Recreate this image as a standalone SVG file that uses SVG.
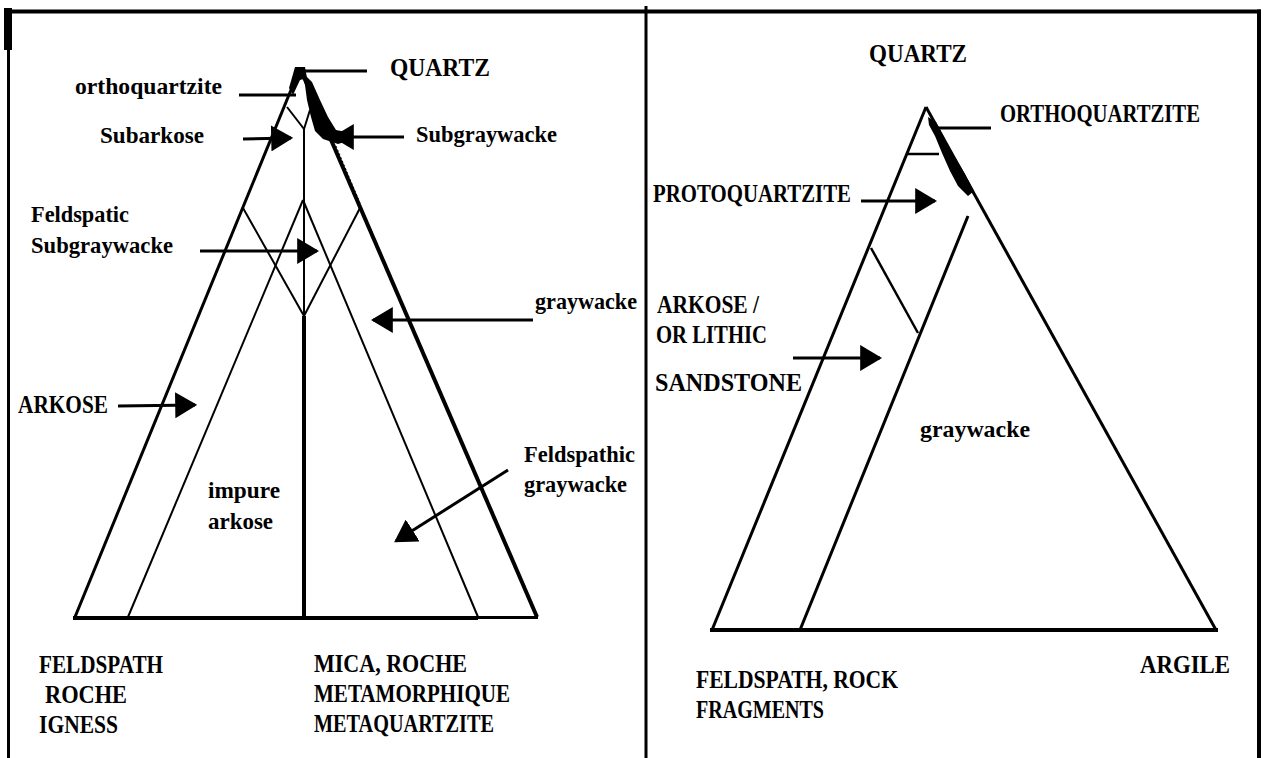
<svg xmlns="http://www.w3.org/2000/svg" width="1265" height="758" viewBox="0 0 1265 758">
<style>
.ln{stroke:#000;fill:none;stroke-linecap:butt}
.w2{stroke-width:2}
.w25{stroke-width:2.5}
.w3{stroke-width:3}
.w4{stroke-width:4}
.cn{stroke:#000;stroke-width:3;fill:none}
.hd{marker-end:url(#ah)}
text{font-family:"Liberation Serif","Times New Roman",serif;font-weight:bold;fill:#000}
.cap{font-size:26px}
.low{font-size:23px}
</style>
<defs>
<marker id="ah" viewBox="0 0 10 10" refX="9" refY="5" markerWidth="22" markerHeight="26" markerUnits="userSpaceOnUse" orient="auto" preserveAspectRatio="none">
<path d="M0,0 L10,5 L0,10 z" fill="#000"/>
</marker>
</defs>
<rect width="1265" height="758" fill="#fff"/>
<g id="frame">
<line class="ln w4" x1="5" y1="11.5" x2="1261" y2="11.5"/>
<line class="ln w3" x1="8.5" y1="8" x2="8.5" y2="758"/>
<rect x="4" y="8" width="8" height="42" fill="#000"/>
<line class="ln w3" x1="646" y1="6" x2="646" y2="758"/>
<line class="ln w4" x1="1259" y1="9.5" x2="1259" y2="758"/>
</g>
<g id="left-diagram">
<line class="ln w3" x1="300" y1="68" x2="75" y2="617"/>
<line class="ln w4" x1="300" y1="68" x2="537" y2="617"/>
<line class="ln" stroke="#fff" stroke-width="1" stroke-dasharray="2 2" x1="336" y1="146" x2="360" y2="203"/>
<line class="ln w2" x1="303" y1="200" x2="128" y2="617"/>
<line class="ln w2" x1="303" y1="200" x2="478" y2="617"/>
<line class="ln w2" x1="243" y1="208" x2="304" y2="316"/>
<line class="ln w2" x1="360" y1="208" x2="304" y2="316"/>
<line class="ln w2" x1="304" y1="128" x2="304" y2="316"/>
<line class="ln w4" x1="304" y1="316" x2="304" y2="617"/>
<line class="ln w2" x1="304" y1="129" x2="287" y2="107"/>
<line class="ln w2" x1="304" y1="129" x2="310" y2="110"/>
<line class="ln w4" x1="73" y1="618" x2="478" y2="618"/>
<line class="ln w3" x1="478" y1="617.5" x2="538" y2="617.5"/>
<polygon points="295,67 305,67 307,78 300,80 293,95 289,88" fill="#000"/>
<polygon points="302,72 312,82 320,100 328,117 336,130 346,132 350,128 351,140 338,144 323,139 315,131 311,117 307,100 305,85" fill="#000"/>
</g>
<g id="right-diagram">
<line class="ln w3" x1="926" y1="107" x2="712" y2="630"/>
<line class="ln w3" x1="926" y1="107" x2="1216" y2="630"/>
<line class="ln w4" x1="710" y1="630" x2="1218" y2="630"/>
<line class="ln w3" x1="800" y1="630" x2="968" y2="216"/>
<line class="ln w25" x1="871" y1="248" x2="918" y2="333"/>
<line class="ln w25" x1="906" y1="154" x2="939" y2="154"/>
<polygon points="928,117 936,122 945,139 955,157 965,174 974,191 968,196 958,186 950,171 942,153 935,136 929,125" fill="#000"/>
</g>
<g id="connectors">
<line class="cn" x1="367" y1="71" x2="301" y2="71"/>
<line class="cn" x1="239" y1="95" x2="296" y2="95"/>
<line class="cn hd" x1="243" y1="139" x2="291" y2="138"/>
<line class="cn hd" x1="404" y1="137" x2="334" y2="137"/>
<line class="cn hd" x1="200" y1="251" x2="317" y2="251"/>
<line class="cn hd" x1="533" y1="320" x2="373" y2="320"/>
<line class="cn hd" x1="118" y1="406" x2="195" y2="405"/>
<line class="cn hd" x1="508" y1="470" x2="396" y2="541"/>
<line class="cn" x1="991" y1="128" x2="934" y2="128"/>
<line class="cn hd" x1="861" y1="201" x2="935" y2="201"/>
<line class="cn hd" x1="793" y1="358" x2="880" y2="358"/>
</g>
<g id="n-quartz-l"><text class="cap" x="390" y="76" textLength="100" lengthAdjust="spacingAndGlyphs">QUARTZ</text></g>
<g id="n-orthoquartzite"><text class="low" x="75" y="94" textLength="147" lengthAdjust="spacingAndGlyphs">orthoquartzite</text></g>
<g id="n-subarkose"><text class="low" x="100" y="143" textLength="104" lengthAdjust="spacingAndGlyphs">Subarkose</text></g>
<g id="n-subgraywacke"><text class="low" x="416" y="142" textLength="141" lengthAdjust="spacingAndGlyphs">Subgraywacke</text></g>
<g id="n-feldspatic-subgraywacke">
<text class="low" x="31" y="222" textLength="98" lengthAdjust="spacingAndGlyphs">Feldspatic</text>
<text class="low" x="31" y="253" textLength="142" lengthAdjust="spacingAndGlyphs">Subgraywacke</text>
</g>
<g id="n-graywacke-l"><text class="low" x="535" y="309" textLength="102" lengthAdjust="spacingAndGlyphs">graywacke</text></g>
<g id="n-arkose"><text class="cap" x="18" y="413" textLength="90" lengthAdjust="spacingAndGlyphs">ARKOSE</text></g>
<g id="n-impure-arkose">
<text class="low" x="208" y="498" textLength="72" lengthAdjust="spacingAndGlyphs">impure</text>
<text class="low" x="208" y="529" textLength="65" lengthAdjust="spacingAndGlyphs">arkose</text>
</g>
<g id="n-feldspathic-graywacke">
<text class="low" x="524" y="462" textLength="111" lengthAdjust="spacingAndGlyphs">Feldspathic</text>
<text class="low" x="524" y="492" textLength="103" lengthAdjust="spacingAndGlyphs">graywacke</text>
</g>
<g id="n-feldspath-l">
<text class="cap" x="39" y="673" textLength="124" lengthAdjust="spacingAndGlyphs">FELDSPATH</text>
<text class="cap" x="45" y="703" textLength="82" lengthAdjust="spacingAndGlyphs">ROCHE</text>
<text class="cap" x="39" y="733" textLength="79" lengthAdjust="spacingAndGlyphs">IGNESS</text>
</g>
<g id="n-mica">
<text class="cap" x="314" y="672" textLength="153" lengthAdjust="spacingAndGlyphs">MICA, ROCHE</text>
<text class="cap" x="314" y="702" textLength="196" lengthAdjust="spacingAndGlyphs">METAMORPHIQUE</text>
<text class="cap" x="314" y="732" textLength="180" lengthAdjust="spacingAndGlyphs">METAQUARTZITE</text>
</g>
<g id="n-quartz-r"><text class="cap" x="869" y="62" textLength="98" lengthAdjust="spacingAndGlyphs">QUARTZ</text></g>
<g id="n-orthoquartzite-r"><text class="cap" x="1000" y="122" textLength="200" lengthAdjust="spacingAndGlyphs">ORTHOQUARTZITE</text></g>
<g id="n-protoquartzite"><text class="cap" x="653" y="202" textLength="198" lengthAdjust="spacingAndGlyphs">PROTOQUARTZITE</text></g>
<g id="n-arkose-lithic">
<text class="cap" x="657" y="313" textLength="102" lengthAdjust="spacingAndGlyphs">ARKOSE  /</text>
<text class="cap" x="656" y="343" textLength="111" lengthAdjust="spacingAndGlyphs">OR LITHIC</text>
<text class="cap" x="655" y="391" textLength="147" lengthAdjust="spacingAndGlyphs">SANDSTONE</text>
</g>
<g id="n-graywacke-r"><text class="low" x="920" y="437" textLength="110" lengthAdjust="spacingAndGlyphs">graywacke</text></g>
<g id="n-feldspath-r">
<text class="cap" x="696" y="688" textLength="202" lengthAdjust="spacingAndGlyphs">FELDSPATH, ROCK</text>
<text class="cap" x="696" y="718" textLength="128" lengthAdjust="spacingAndGlyphs">FRAGMENTS</text>
</g>
<g id="n-argile"><text class="cap" x="1140" y="673" textLength="90" lengthAdjust="spacingAndGlyphs">ARGILE</text></g>
</svg>
